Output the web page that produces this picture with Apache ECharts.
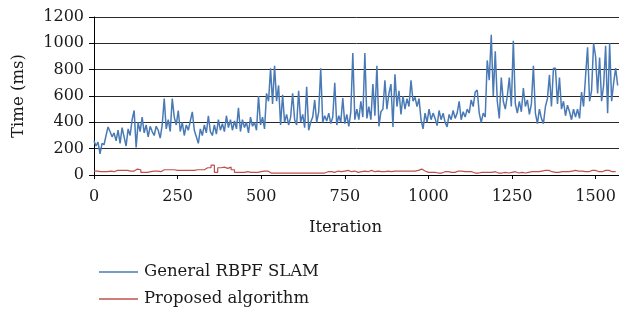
<!DOCTYPE html>
<html>
<head>
<meta charset="utf-8">
<script src="https://cdn.jsdelivr.net/npm/echarts@6/dist/echarts.min.js"></script>
<style>
  html, body { margin: 0; padding: 0; background: #fff; }
  #chart { width: 619px; height: 310px; }
</style>
</head>
<body>
<div id="chart"></div>
<script>
// Time per iteration (ms), one reading every 6 iterations
const rbpfStep = 6;
const rbpfTimes = [
  260, 220, 250, 160, 240, 230, 300, 365, 330, 290,
  320, 260, 340, 240, 360, 290, 220, 350, 300, 420,
  490, 210, 400, 330, 440, 320, 380, 290, 370, 330,
  300, 370, 340, 280, 380, 580, 350, 420, 330, 580,
  440, 380, 490, 330, 400, 300, 380, 340, 410, 480,
  340, 290, 240, 350, 300, 380, 320, 450, 330, 300,
  380, 310, 420, 340, 390, 330, 450, 360, 420, 340,
  410, 350, 510, 330, 420, 360, 400, 320, 440, 370,
  400, 340, 600, 380, 440, 350, 620, 560, 810, 540,
  830, 560, 680, 380, 610, 400, 460, 380, 440, 620,
  420, 380, 640, 400, 460, 360, 670, 340, 400, 440,
  570, 400, 480, 810, 400, 450, 410, 470, 390, 440,
  700, 380, 450, 400, 585, 390, 460, 370, 480, 926,
  420, 500, 420, 560, 440, 926, 430, 520, 420, 690,
  450, 830, 370, 480, 500, 720, 500, 620, 690, 365,
  765, 520, 640, 460, 600, 500, 580, 520, 720, 560,
  590, 520, 580, 420, 350, 470, 400, 500, 420, 470,
  430, 375, 490, 420, 470, 400, 365, 460, 420, 490,
  430, 470, 560, 420, 480, 440, 500, 470, 570, 520,
  630, 645, 470, 400, 470, 440, 870, 720, 1065, 600,
  940, 560, 430, 740, 560, 500, 600, 740, 520, 1020,
  540, 470, 560, 480, 660, 520, 570, 460, 540, 830,
  470, 390, 500, 430, 390, 520, 580, 760, 520, 810,
  810, 540, 740, 500, 560, 450, 530, 480, 420, 500,
  440, 500, 430, 630, 520, 750, 970, 560, 640, 1000,
  900, 620, 893, 560, 680, 982, 470, 1000, 560, 700,
  812, 680
];

// one reading every 10 iterations
const proposedStep = 10;
const proposedTimes = [
  30, 25, 25, 25, 30, 25, 35, 35, 35, 35,
  30, 30, 45, 40, 20, 20, 25, 30, 30, 25,
  40, 40, 40, 40, 35, 35, 35, 35, 35, 35,
  40, 40, 40, 55, 55, 75, 20, 55, 60, 50,
  60, 40, 20, 20, 20, 25, 20, 20, 20, 25,
  30, 30, 15, 15, 15, 15, 15, 15, 15, 15,
  15, 15, 15, 15, 15, 15, 15, 15, 15, 25,
  25, 20, 30, 25, 30, 35, 25, 30, 20, 25,
  30, 25, 35, 25, 30, 25, 25, 30, 25, 30,
  30, 30, 30, 30, 30, 30, 35, 45, 30, 20,
  20, 20, 15, 15, 25, 25, 20, 20, 30, 30,
  25, 25, 25, 15, 15, 20, 20, 20, 20, 25,
  15, 15, 20, 15, 20, 25, 15, 20, 15, 20,
  25, 25, 25, 30, 35, 35, 25, 20, 20, 25,
  25, 25, 30, 35, 30, 30, 25, 25, 35, 35,
  25, 25, 35, 35, 25, 25, 25
];

const seriesNames = ["General RBPF SLAM", "Proposed algorithm"];
const xTicks = [0, 250, 500, 750, 1000, 1250, 1500];
const yTicks = [0, 200, 400, 600, 800, 1000, 1200];

const toPairs = (vals, step) => vals.map((v, i) => [i * step, v]);

const font = "'DejaVu Serif', 'Liberation Serif', serif";
const chart = echarts.init(document.getElementById("chart"));

chart.setOption({
  animation: false,
  textStyle: { fontFamily: font },
  grid: { left: 94, right: 0, top: 17, bottom: 135 },
  legend: {
    orient: "vertical",
    left: 94,
    top: 258,
    height: 50,
    itemWidth: 39,
    itemHeight: 10,
    itemGap: 9,
    icon: "path://M0,4.3H38V5.7H0Z",
    textStyle: {
      fontFamily: font,
      fontSize: 16.5,
      lineHeight: 18,
      color: "#1a1a1a",
      padding: [0, 0, 0, 1],
    },
    data: seriesNames,
  },
  xAxis: {
    type: "value",
    min: 0,
    max: 1570,
    interval: 250,
    name: "Iteration",
    nameLocation: "middle",
    nameGap: 44,
    nameTextStyle: { fontSize: 16.5, color: "#1a1a1a", padding: [0, 22, 0, 0] },
    axisLine: { lineStyle: { color: "#000", width: 1 } },
    axisTick: { show: true, length: 4, lineStyle: { color: "#000" } },
    axisLabel: {
      fontSize: 16,
      color: "#1a1a1a",
      margin: 14,
      showMaxLabel: false,
      formatter: (v) => (xTicks.includes(v) ? String(v) : ""),
    },
    splitLine: { show: false },
  },
  yAxis: {
    type: "value",
    min: 0,
    max: 1200,
    interval: 200,
    name: "Time (ms)",
    nameLocation: "middle",
    nameGap: 67,
    nameTextStyle: { fontSize: 16.5, color: "#1a1a1a" },
    axisLine: { show: true, lineStyle: { color: "#000", width: 1 } },
    axisTick: { show: true, length: 5, lineStyle: { color: "#000" } },
    axisLabel: {
      fontSize: 16,
      color: "#1a1a1a",
      margin: 10,
      formatter: (v) => (yTicks.includes(v) ? String(v) : ""),
    },
    splitLine: { show: true, lineStyle: { color: "#2a2a2a", width: 1 } },
  },
  series: [
    {
      name: seriesNames[0],
      type: "line",
      data: toPairs(rbpfTimes, rbpfStep),
      showSymbol: false,
      color: "#4a7ab5",
      lineStyle: { width: 1.5 },
    },
    {
      name: seriesNames[1],
      type: "line",
      step: "end",
      data: toPairs(proposedTimes, proposedStep),
      showSymbol: false,
      color: "#c0504d",
      lineStyle: { width: 1.2 },
    },
  ],
});
</script>
</body>
</html>
